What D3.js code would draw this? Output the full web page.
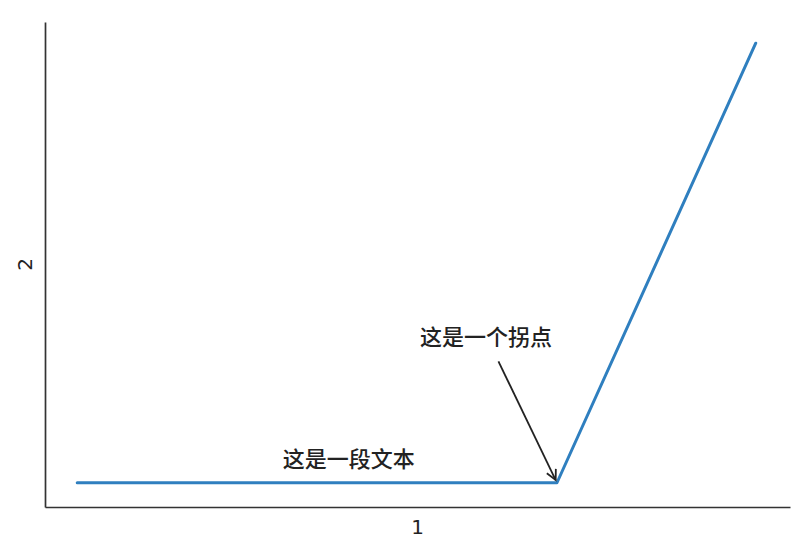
<!DOCTYPE html>
<html>
  <head>
    <meta charset="utf-8" />
    <title>拐点</title>
    <script src="https://d3js.org/d3.v7.js"></script>
    <style>
      body { margin: 0; background: #fff; }
      text { font-family: 'Noto Sans CJK SC', 'DejaVu Sans', sans-serif; fill: #222; }
    </style>
  </head>
  <body>
    <svg width="802" height="552"></svg>

    <script>
      // data
      const xValues = [0, 70, 99];
      const yValues = [1, 1, 30];

      const xLabelText = '1';
      const yLabelText = '2';

      const noteText = '这是一段文本';
      const notePos = [30, 2];

      const kinkText = '这是一个拐点';
      const kinkTextPos = [50, 10];
      const kinkPoint = [70, 1];

      const svg = d3.select('svg');
      const margin = { top: 22, right: 12, bottom: 45, left: 45 };
      const width = +svg.attr('width');
      const height = +svg.attr('height');
      const innerWidth = width - margin.left - margin.right;
      const innerHeight = height - margin.top - margin.bottom;

      const xScale = d3.scaleLinear().domain([-4.7, 104]).range([0, innerWidth]);
      const yScale = d3.scaleLinear().domain([-0.6, 31.4]).range([innerHeight, 0]);

      const g = svg.append('g')
        .attr('transform', `translate(${margin.left},${margin.top})`);

      // only left and bottom spines, no ticks
      g.append('g')
        .attr('transform', `translate(0,${innerHeight})`)
        .call(d3.axisBottom(xScale).tickValues([]).tickSizeOuter(0));
      g.append('g')
        .call(d3.axisLeft(yScale).tickValues([]).tickSizeOuter(0));
      g.selectAll('.domain').attr('stroke', '#333').attr('stroke-width', 1.7);

      g.append('text')
        .attr('x', innerWidth / 2)
        .attr('y', innerHeight + 27)
        .attr('text-anchor', 'middle')
        .style('font-family', 'DejaVu Sans, sans-serif')
        .style('font-size', '20px')
        .text(xLabelText);

      g.append('text')
        .attr('transform', `translate(-13,${innerHeight / 2}) rotate(-90)`)
        .attr('text-anchor', 'middle')
        .style('font-family', 'DejaVu Sans, sans-serif')
        .style('font-size', '20px')
        .text(yLabelText);

      const points = xValues.map((x, i) => [x, yValues[i]]);
      const line = d3.line()
        .x((d) => xScale(d[0]))
        .y((d) => yScale(d[1]));

      g.append('path')
        .datum(points)
        .attr('fill', 'none')
        .attr('stroke', '#2f7fbf')
        .attr('stroke-width', 3)
        .attr('stroke-linejoin', 'round')
        .attr('stroke-linecap', 'round')
        .attr('d', line);

      g.append('text')
        .attr('x', xScale(notePos[0]))
        .attr('y', yScale(notePos[1]) - 1)
        .style('font-size', '22px')
        .style('font-weight', 500)
        .text(noteText);

      const kinkLabel = g.append('text')
        .attr('x', xScale(kinkTextPos[0]))
        .attr('y', yScale(kinkTextPos[1]) - 1)
        .style('font-size', '22px')
        .style('font-weight', 500)
        .text(kinkText);

      // arrow from the label box to the kink
      const bb = kinkLabel.node().getBBox();
      const cx = bb.x + bb.width / 2;
      const cy = bb.y + bb.height / 2;
      const px = xScale(kinkPoint[0]);
      const py = yScale(kinkPoint[1]);
      const dx = px - cx;
      const dy = py - cy;
      const len = Math.hypot(dx, dy);
      const ux = dx / len;
      const uy = dy / len;
      const t0 = (bb.height / 2 + 10) / uy;
      const sx = cx + ux * t0;
      const sy = cy + uy * t0;
      const ex = px - ux * 3;
      const ey = py - uy * 3;

      const headLen = 10;
      const headW = 5;
      const bx = ex - ux * headLen;
      const by = ey - uy * headLen;

      g.append('path')
        .attr('fill', 'none')
        .attr('stroke', '#222')
        .attr('stroke-width', 1.8)
        .attr('d', `M${sx},${sy}L${ex},${ey}`);

      g.append('path')
        .attr('fill', 'none')
        .attr('stroke', '#222')
        .attr('stroke-width', 1.8)
        .attr('stroke-linejoin', 'miter')
        .attr('d', `M${bx - uy * headW},${by + ux * headW}L${ex},${ey}L${bx + uy * headW},${by - ux * headW}`);
    </script>
  </body>
</html>
